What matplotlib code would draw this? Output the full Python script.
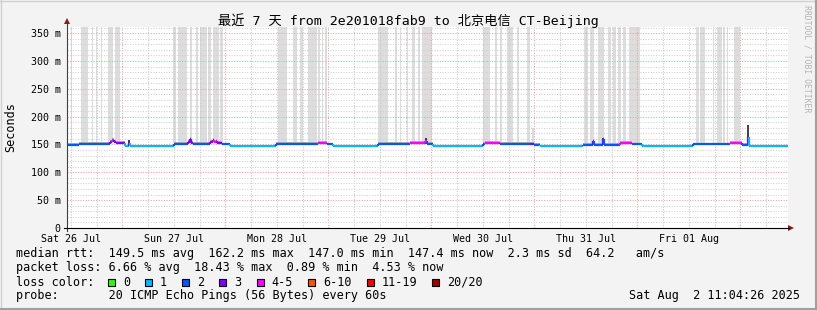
import matplotlib
matplotlib.use("Agg")
import matplotlib.pyplot as plt
from matplotlib.lines import Line2D
from matplotlib.patches import Rectangle, Polygon

# ---------------- data ----------------
title = "最近 7 天 from 2e201018fab9 to 北京电信 CT-Beijing"
# time axis in hours since Sat 26 Jul 00:00
t_start = 11 + 4 / 60 + 26 / 3600
t_end = t_start + 7 * 24

day_labels = ["Sat 26 Jul", "Sun 27 Jul", "Mon 28 Jul", "Tue 29 Jul",
              "Wed 30 Jul", "Thu 31 Jul", "Fri 01 Aug"]
day_label_hours = [12, 36, 60, 84, 108, 132, 156]

y_ticks = [0, 50, 100, 150, 200, 250, 300, 350]
y_tick_labels = ["0", "50 m", "100 m", "150 m", "200 m", "250 m", "300 m", "350 m"]

loss_labels = ["0", "1", "2", "3", "4-5", "6-10", "11-19", "20/20"]
loss_colors = ["#26ff00", "#00b8ff", "#0059ff", "#7e00ff", "#ff00ff",
               "#ff5500", "#ff0000", "#a10000"]

# median rtt (ms) as steps: edges (hours), value, loss-colour index
med_edges = [11.07, 13.9, 21.1, 21.6, 22.0, 22.5, 24.6, 25.5, 25.8, 36.0,
             39.3, 39.7, 40.0, 40.4, 44.4, 45.0, 45.3, 45.7, 46.0, 47.2,
             49.1, 59.8, 69.6, 71.7, 73.0, 83.5, 91.0, 94.5, 95.0, 96.4,
             108.0, 108.5, 112.0, 119.0, 119.9, 121.3, 131.3, 133.6, 133.9, 135.9,
             136.1, 139.9, 142.7, 145.1, 156.9, 165.5, 168.4, 169.7, 170.0, 179.07]
med_values = [149.0, 150.5, 154.0, 157.5, 154.0, 152.0, 146.5, 152.0, 147.2,
              150.5, 155.0, 160.0, 153.0, 150.5, 154.0, 158.5, 154.0, 157.0, 153.5,
              150.0, 147.2, 150.5, 153.0, 150.0, 147.2, 150.5, 152.5, 157.0, 150.5,
              147.2, 150.5, 152.0, 150.5, 151.5, 149.0, 147.2, 149.5, 156.5, 149.0,
              160.0, 149.0, 152.0, 150.0, 147.2, 150.0, 152.0, 148.5, 164.0, 147.2]
med_loss = [2, 2, 3, 4, 3, 3, 1, 3, 1,
            2, 3, 3, 3, 2, 3, 3, 4, 4, 3,
            2, 1, 2, 4, 2, 1, 2, 4, 4, 2,
            1, 2, 4, 2, 3, 2, 1, 2, 3, 2,
            3, 2, 4, 2, 1, 2, 4, 2, 3, 1]

# dark smoke spikes: time (h), low, high (ms)
spike_t = [25.6, 94.7, 135.9, 169.8]
spike_lo = [147.0, 150.0, 149.0, 147.0]
spike_hi = [158.0, 161.0, 162.0, 185.0]

# tall smoke bands (pings off scale): start, end (hours), top (ms)
band_start = [12.0, 14.3, 16.9, 17.8, 19.0, 20.6, 22.3,
              35.8, 37.0, 39.7, 41.1, 42.1, 43.9, 45.0, 46.8,
              60.2, 63.7, 65.4, 67.2, 69.6, 70.5, 71.2,
              83.5, 87.5, 88.6, 90.3, 91.5, 92.8, 93.8,
              108.0, 110.8, 111.9, 113.6, 115.9, 118.3, 119.5,
              131.5, 132.9, 134.8, 137.1, 138.3, 139.5, 140.6, 142.0,
              157.6, 158.5, 161.6, 162.5, 163.9, 164.9, 166.5]
band_end = [12.2, 16.0, 17.1, 18.1, 19.2, 21.8, 23.4,
            36.5, 39.0, 40.2, 41.6, 43.7, 44.6, 46.5, 47.4,
            62.3, 64.7, 66.1, 69.3, 70.0, 70.7, 71.6,
            85.9, 87.9, 88.8, 90.5, 92.2, 93.3, 96.1,
            109.6, 111.3, 112.4, 115.0, 116.3, 119.0, 120.0,
            132.5, 133.9, 136.2, 137.8, 139.0, 140.2, 141.3, 144.6,
            158.3, 159.7, 161.8, 163.7, 164.4, 165.1, 167.9]
band_top = [400] * 35 + [180] + [400] * 15

legend_lines = [
    "median rtt:  149.5 ms avg  162.2 ms max  147.0 ms min  147.4 ms now  2.3 ms sd  64.2   am/s",
    "packet loss: 6.66 % avg  18.43 % max  0.89 % min  4.53 % now",
    "loss color:",
    "probe:       20 ICMP Echo Pings (56 Bytes) every 60s",
]
stamp = "Sat Aug  2 11:04:26 2025"

# ---------------- drawing ----------------
W, H, DPI = 817, 310, 100
MONO = ["DejaVu Sans Mono", "Noto Sans CJK SC"]
plt.rcParams["font.family"] = MONO

fig = plt.figure(figsize=(W / DPI, H / DPI), dpi=DPI, facecolor="#f3f3f3")


def fx(x):
    return x / W


def fy(y):
    return 1 - y / H


ax = fig.add_axes([fx(67), fy(228), fx(788) - fx(67), fy(27) - fy(228)])
ax.set_facecolor("white")
ax.set_xlim(t_start, t_end)
ax.set_ylim(0, 361)
for s in ax.spines.values():
    s.set_visible(False)

# smoke bands
for s, e, top in zip(band_start, band_end, band_top):
    ax.add_patch(Rectangle((s, 153), e - s, top - 153, facecolor="#dddddd",
                           edgecolor="none", zorder=1))

# grid
dot = (0, (1, 1.5))
h = 0
while h <= 180:
    if t_start < h < t_end:
        if h % 24 == 0:
            ax.axvline(h, color="#f0a0a0", lw=0.75, ls=dot, zorder=2)
        else:
            ax.axvline(h, color="#c8c8c8", lw=0.75, ls=dot, zorder=2)
    h += 6
for yv in range(10, 361, 10):
    if yv % 50 == 0:
        ax.axhline(yv, color="#f0a0a0", lw=0.75, ls=dot, zorder=2)
    else:
        ax.axhline(yv, color="#d0d0d0", lw=0.75, ls=dot, zorder=2)

# smoke around median on lossy segments
for i in range(len(med_values)):
    if med_loss[i] >= 2:
        ax.fill_between([med_edges[i], med_edges[i + 1]],
                        med_values[i] - 1.5, med_values[i] + 3.5,
                        color="#b0b0b0", lw=0, zorder=3)

# spikes
ax.vlines(spike_t, spike_lo, spike_hi, color="#202020", lw=1.2, zorder=4)

# median line
n = len(med_values)
for i in range(n):
    s, e, v = med_edges[i], med_edges[i + 1], med_values[i]
    c = loss_colors[med_loss[i]]
    ax.plot([s, e], [v, v], color=c, lw=1.6, solid_capstyle="butt", zorder=5)
    if i + 1 < n:
        ax.plot([e, e], [v, med_values[i + 1]],
                color=loss_colors[med_loss[i + 1]], lw=1.6,
                solid_capstyle="butt", zorder=5)

ax.set_xticks(day_label_hours, day_labels)
ax.set_yticks(y_ticks, y_tick_labels)
ax.tick_params(axis="x", length=0, pad=4, labelsize=7.2, colors="#000000")
ax.tick_params(axis="y", length=0, pad=4.5, labelsize=7.2, colors="#000000")

# axes lines and arrows
fig.add_artist(Line2D([fx(67), fx(67)], [fy(231), fy(24)], color="#404040", lw=0.8))
fig.add_artist(Line2D([fx(64), fx(789)], [fy(228), fy(228)], color="#000000", lw=0.8))
fig.add_artist(Polygon([(fx(64), fy(24)), (fx(70), fy(24)), (fx(67), fy(18))],
                       closed=True, color="#8b1a1a", lw=0))
fig.add_artist(Polygon([(fx(788), fy(225)), (fx(788), fy(231)), (fx(794), fy(228))],
                       closed=True, color="#8b1a1a", lw=0))

# titles / labels
fig.text(fx(408.5), fy(21), title, ha="center", va="center", fontsize=9.5,
         family=MONO, color="#000000")
fig.text(fx(11), fy(127), "Seconds", ha="center", va="center", rotation=90,
         fontsize=8.5, family=MONO)
fig.text(fx(807), fy(5), "RRDTOOL / TOBI OETIKER", ha="center", va="top",
         rotation=270, fontsize=5.9, family=MONO, color="#b4b4b4")

# legend
line_y = [254, 268, 282, 296]
for txt, yy in zip(legend_lines, line_y):
    fig.text(fx(16), fy(yy), txt, ha="left", va="center", fontsize=8.5, family=MONO)
fig.text(fx(800), fy(296), stamp, ha="right", va="center", fontsize=8.5, family=MONO)

xx = 108.0
char_w = 7.14
for lab, col in zip(loss_labels, loss_colors):
    fig.add_artist(Rectangle((fx(xx), fy(285.5)), 7 / W, 7 / H, facecolor=col,
                             edgecolor="#000000", lw=0.8))
    fig.text(fx(xx + 15), fy(282), lab, ha="left", va="center", fontsize=8.5, family=MONO)
    xx = xx + 15 + len(lab) * char_w + 15

# frame
fig.add_artist(Line2D([0, 1], [fy(0.5), fy(0.5)], color="#d0d0d0", lw=1))
fig.add_artist(Line2D([fx(0.5), fx(0.5)], [0, 1], color="#d0d0d0", lw=1))
fig.add_artist(Line2D([0, 1], [fy(309), fy(309)], color="#a0a0a0", lw=1.5))
fig.add_artist(Line2D([fx(816.3), fx(816.3)], [0, 1], color="#a0a0a0", lw=1.5))

fig.savefig("out.png", dpi=DPI, facecolor=fig.get_facecolor())
